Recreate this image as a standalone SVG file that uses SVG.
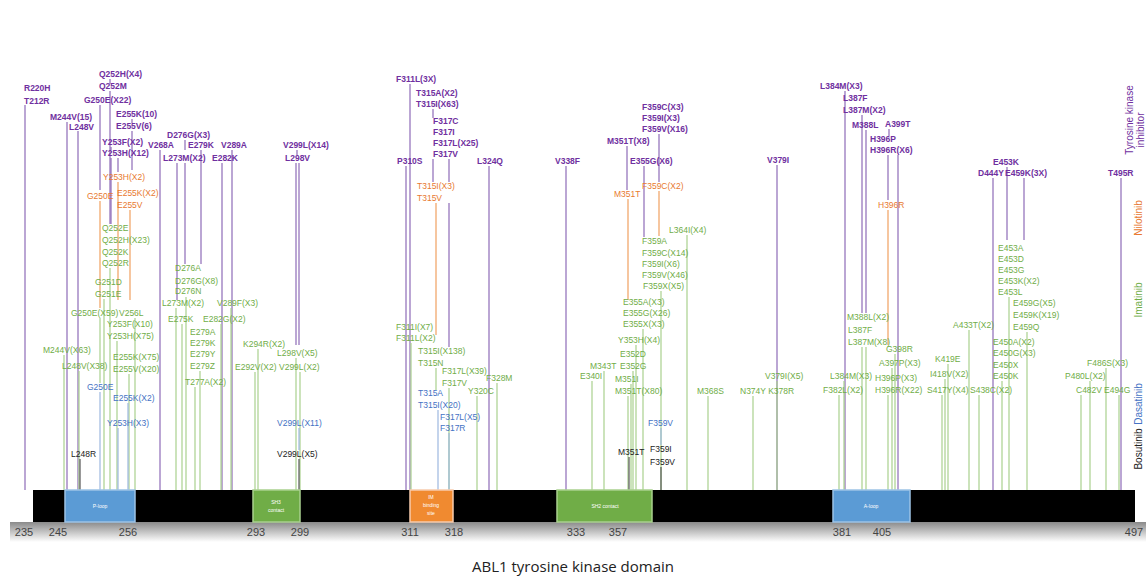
<svg xmlns="http://www.w3.org/2000/svg" width="1146" height="580" viewBox="0 0 1146 580">
<defs>
<linearGradient id="sh" x1="0" y1="0" x2="0" y2="1"><stop offset="0" stop-color="#8a8a8a"/><stop offset="1" stop-color="#ffffff"/></linearGradient>
</defs>
<style>
text{font-family:"Liberation Sans",Arial,sans-serif;font-size:8.5px}
.p{fill:#7030a0;font-weight:bold}
.o{fill:#e8792f}
.g{fill:#70ad47}
.b{fill:#4472c4}
.k{fill:#222}
.lp{stroke:#8e6bb8;stroke-width:1.2}
.lo{stroke:#f0a060;stroke-width:1.2}
.lg{stroke:#a9d18e;stroke-width:1.2}
.lb{stroke:#9db8e0;stroke-width:1.2}
.lk{stroke:#555;stroke-width:1.2}
.ax{font-size:11px;fill:#444}
.dm{font-size:5px;fill:#fff}
.lgd{font-size:10px}
</style>
<rect width="1146" height="580" fill="#fff"/>
<g id="connectors">
<line class="lp" x1="25" y1="105" x2="25" y2="490"/>
<line class="lp" x1="110" y1="79" x2="110" y2="84"/>
<line class="lp" x1="110" y1="91" x2="110" y2="224"/>
<line class="lp" x1="100" y1="105" x2="100" y2="190"/>
<line class="lp" x1="67" y1="122" x2="67" y2="490"/>
<line class="lp" x1="78" y1="131" x2="78" y2="490"/>
<line class="lp" x1="132" y1="119" x2="132" y2="123"/>
<line class="lp" x1="132" y1="131" x2="132" y2="170"/>
<line class="lp" x1="111" y1="147" x2="111" y2="150"/>
<line class="lp" x1="111" y1="158" x2="111" y2="224"/>
<line class="lp" x1="118" y1="158" x2="118" y2="172"/>
<line class="lp" x1="160" y1="150" x2="160" y2="490"/>
<line class="lp" x1="185" y1="140" x2="185" y2="150"/>
<line class="lp" x1="185" y1="163" x2="185" y2="264"/>
<line class="lp" x1="177" y1="163" x2="177" y2="300"/>
<line class="lp" x1="201" y1="150" x2="201" y2="264"/>
<line class="lp" x1="222" y1="163" x2="222" y2="490"/>
<line class="lp" x1="232" y1="150" x2="232" y2="490"/>
<line class="lp" x1="297" y1="150" x2="297" y2="155"/>
<line class="lp" x1="296" y1="163" x2="296" y2="345"/>
<line class="lp" x1="299" y1="163" x2="299" y2="345"/>
<line class="lp" x1="410" y1="84" x2="410" y2="490"/>
<line class="lp" x1="406" y1="166" x2="406" y2="490"/>
<line class="lp" x1="433" y1="109" x2="433" y2="118"/>
<line class="lp" x1="433" y1="159" x2="433" y2="182"/>
<line class="lp" x1="449" y1="159" x2="449" y2="182"/>
<line class="lp" x1="449" y1="203" x2="449" y2="347"/>
<line class="lp" x1="489" y1="166" x2="489" y2="490"/>
<line class="lp" x1="566" y1="166" x2="566" y2="490"/>
<line class="lp" x1="659" y1="134" x2="659" y2="182"/>
<line class="lp" x1="627" y1="146" x2="627" y2="190"/>
<line class="lp" x1="644" y1="166" x2="644" y2="237"/>
<line class="lp" x1="777" y1="165" x2="777" y2="490"/>
<line class="lp" x1="845" y1="91" x2="845" y2="490"/>
<line class="lp" x1="862" y1="115" x2="862" y2="313"/>
<line class="lp" x1="866" y1="130" x2="866" y2="313"/>
<line class="lp" x1="889" y1="129" x2="889" y2="136"/>
<line class="lp" x1="888" y1="155" x2="888" y2="200"/>
<line class="lp" x1="898" y1="155" x2="898" y2="490"/>
<line class="lp" x1="993" y1="178" x2="993" y2="490"/>
<line class="lp" x1="1007" y1="167" x2="1007" y2="240"/>
<line class="lp" x1="1024" y1="178" x2="1024" y2="240"/>
<line class="lp" x1="1121" y1="178" x2="1121" y2="490"/>
<line class="lo" x1="118" y1="182" x2="118" y2="300"/>
<line class="lo" x1="100" y1="201" x2="100" y2="308"/>
<line class="lo" x1="130" y1="210" x2="130" y2="300"/>
<line class="lo" x1="436" y1="203" x2="436" y2="335"/>
<line class="lo" x1="659" y1="191" x2="659" y2="236"/>
<line class="lo" x1="628" y1="199" x2="628" y2="300"/>
<line class="lo" x1="888" y1="210" x2="888" y2="345"/>
<line class="lg" x1="64" y1="355" x2="64" y2="490"/>
<line class="lg" x1="79" y1="371" x2="79" y2="490"/>
<line class="lg" x1="100" y1="318" x2="100" y2="383"/>
<line class="lg" x1="104" y1="299" x2="104" y2="490"/>
<line class="lg" x1="110" y1="268" x2="110" y2="490"/>
<line class="lg" x1="117" y1="341" x2="117" y2="490"/>
<line class="lg" x1="129" y1="374" x2="129" y2="490"/>
<line class="lg" x1="135" y1="318" x2="135" y2="490"/>
<line class="lg" x1="176" y1="308" x2="176" y2="490"/>
<line class="lg" x1="182" y1="324" x2="182" y2="490"/>
<line class="lg" x1="186" y1="297" x2="186" y2="490"/>
<line class="lg" x1="195" y1="387" x2="195" y2="490"/>
<line class="lg" x1="200" y1="371" x2="200" y2="490"/>
<line class="lg" x1="221" y1="324" x2="221" y2="490"/>
<line class="lg" x1="231" y1="308" x2="231" y2="490"/>
<line class="lg" x1="255" y1="372" x2="255" y2="490"/>
<line class="lg" x1="258" y1="349" x2="258" y2="490"/>
<line class="lg" x1="296" y1="358" x2="296" y2="490"/>
<line class="lg" x1="300" y1="372" x2="300" y2="490"/>
<line class="lg" x1="411" y1="343" x2="411" y2="490"/>
<line class="lg" x1="436" y1="368" x2="436" y2="390"/>
<line class="lg" x1="449" y1="388" x2="449" y2="490"/>
<line class="lg" x1="477" y1="396" x2="477" y2="490"/>
<line class="lg" x1="497" y1="383" x2="497" y2="490"/>
<line class="lg" x1="592" y1="381" x2="592" y2="490"/>
<line class="lg" x1="604" y1="371" x2="604" y2="490"/>
<line class="lg" x1="628" y1="396" x2="628" y2="490"/>
<line class="lg" x1="631" y1="384" x2="631" y2="490"/>
<line class="lg" x1="633" y1="371" x2="633" y2="490"/>
<line class="lg" x1="636" y1="345" x2="636" y2="490"/>
<line class="lg" x1="643" y1="329" x2="643" y2="490"/>
<line class="lg" x1="661" y1="291" x2="661" y2="490"/>
<line class="lg" x1="687" y1="235" x2="687" y2="490"/>
<line class="lg" x1="708" y1="396" x2="708" y2="490"/>
<line class="lg" x1="753" y1="396" x2="753" y2="490"/>
<line class="lg" x1="777" y1="381" x2="777" y2="490"/>
<line class="lg" x1="839" y1="395" x2="839" y2="490"/>
<line class="lg" x1="844" y1="381" x2="844" y2="490"/>
<line class="lg" x1="862" y1="347" x2="862" y2="490"/>
<line class="lg" x1="866" y1="347" x2="866" y2="490"/>
<line class="lg" x1="888" y1="395" x2="888" y2="490"/>
<line class="lg" x1="892" y1="368" x2="892" y2="490"/>
<line class="lg" x1="895" y1="354" x2="895" y2="490"/>
<line class="lg" x1="942" y1="395" x2="942" y2="490"/>
<line class="lg" x1="945" y1="379" x2="945" y2="490"/>
<line class="lg" x1="948" y1="364" x2="948" y2="490"/>
<line class="lg" x1="969" y1="330" x2="969" y2="490"/>
<line class="lg" x1="979" y1="395" x2="979" y2="490"/>
<line class="lg" x1="1002" y1="381" x2="1002" y2="490"/>
<line class="lg" x1="1009" y1="297" x2="1009" y2="490"/>
<line class="lg" x1="1027" y1="332" x2="1027" y2="490"/>
<line class="lg" x1="1081" y1="395" x2="1081" y2="490"/>
<line class="lg" x1="1090" y1="381" x2="1090" y2="490"/>
<line class="lg" x1="1106" y1="368" x2="1106" y2="490"/>
<line class="lg" x1="1119" y1="395" x2="1119" y2="490"/>
<line class="lb" x1="100" y1="392" x2="100" y2="490"/>
<line class="lb" x1="128" y1="403" x2="128" y2="490"/>
<line class="lb" x1="118" y1="428" x2="118" y2="490"/>
<line class="lb" x1="299" y1="428" x2="299" y2="450"/>
<line class="lb" x1="438" y1="410" x2="438" y2="490"/>
<line class="lb" x1="449" y1="433" x2="449" y2="490"/>
<line class="lb" x1="661" y1="428" x2="661" y2="445"/>
<line class="lk" x1="80" y1="459" x2="80" y2="490"/>
<line class="lk" x1="299" y1="459" x2="299" y2="490"/>
<line class="lk" x1="629" y1="457" x2="629" y2="490"/>
<line class="lk" x1="661" y1="467" x2="661" y2="490"/>
</g>
<g id="tki">
<text class="p" x="24" y="91">R220H</text>
<text class="p" x="24" y="104">T212R</text>
<text class="p" x="99" y="77">Q252H(X4)</text>
<text class="p" x="99" y="89">Q252M</text>
<text class="p" x="84" y="103">G250E(X22)</text>
<text class="p" x="50" y="120">M244V(15)</text>
<text class="p" x="116" y="117">E255K(10)</text>
<text class="p" x="69" y="130">L248V</text>
<text class="p" x="116" y="129">E255V(6)</text>
<text class="p" x="167" y="138">D276G(X3)</text>
<text class="p" x="102" y="145">Y253F(X2)</text>
<text class="p" x="148" y="148">V268A</text>
<text class="p" x="188" y="148">E279K</text>
<text class="p" x="221" y="148">V289A</text>
<text class="p" x="283" y="148">V299L(X14)</text>
<text class="p" x="102" y="156">Y253H(X12)</text>
<text class="p" x="163" y="161">L273M(X2)</text>
<text class="p" x="212" y="161">E282K</text>
<text class="p" x="285" y="161">L298V</text>
<text class="p" x="396" y="82">F311L(3X)</text>
<text class="p" x="416" y="96">T315A(X2)</text>
<text class="p" x="416" y="107">T315I(X63)</text>
<text class="p" x="433" y="124">F317C</text>
<text class="p" x="433" y="135">F317I</text>
<text class="p" x="433" y="146">F317L(X25)</text>
<text class="p" x="433" y="157">F317V</text>
<text class="p" x="397" y="164">P310S</text>
<text class="p" x="477" y="164">L324Q</text>
<text class="p" x="555" y="164">V338F</text>
<text class="p" x="642" y="110">F359C(X3)</text>
<text class="p" x="642" y="121">F359I(X3)</text>
<text class="p" x="642" y="132">F359V(X16)</text>
<text class="p" x="607" y="144">M351T(X8)</text>
<text class="p" x="630" y="164">E355G(X6)</text>
<text class="p" x="767" y="163">V379I</text>
<text class="p" x="820" y="89">L384M(X3)</text>
<text class="p" x="843" y="101">L387F</text>
<text class="p" x="843" y="113">L387M(X2)</text>
<text class="p" x="852" y="128">M388L</text>
<text class="p" x="885" y="127">A399T</text>
<text class="p" x="870" y="142">H396P</text>
<text class="p" x="870" y="153">H396R(X6)</text>
<text class="p" x="993" y="165">E453K</text>
<text class="p" x="978" y="176">D444Y</text>
<text class="p" x="1005" y="176">E459K(3X)</text>
<text class="p" x="1108" y="176">T495R</text>
</g>
<g id="nilotinib">
<text class="o" x="103" y="180">Y253H(X2)</text>
<text class="o" x="117" y="196">E255K(X2)</text>
<text class="o" x="87" y="199">G250E</text>
<text class="o" x="117" y="208">E255V</text>
<text class="o" x="417" y="189">T315I(X3)</text>
<text class="o" x="417" y="201">T315V</text>
<text class="o" x="642" y="189">F359C(X2)</text>
<text class="o" x="614" y="197">M351T</text>
<text class="o" x="878" y="208">H396R</text>
</g>
<g id="imatinib">
<text class="g" x="102" y="231">Q252E</text>
<text class="g" x="102" y="243">Q252H(X23)</text>
<text class="g" x="102" y="255">Q252K</text>
<text class="g" x="102" y="266">Q252R</text>
<text class="g" x="175" y="271">D276A</text>
<text class="g" x="95" y="285">G251D</text>
<text class="g" x="175" y="284">D276G(X8)</text>
<text class="g" x="175" y="294">D276N</text>
<text class="g" x="95" y="297">G251E</text>
<text class="g" x="162" y="306">L273M(X2)</text>
<text class="g" x="217" y="306">V289F(X3)</text>
<text class="g" x="71" y="316">G250E(X59)</text>
<text class="g" x="119" y="316">V256L</text>
<text class="g" x="168" y="322">E275K</text>
<text class="g" x="203" y="322">E282G(X2)</text>
<text class="g" x="107" y="327">Y253F(X10)</text>
<text class="g" x="190" y="335">E279A</text>
<text class="g" x="107" y="339">Y253H(X75)</text>
<text class="g" x="190" y="346">E279K</text>
<text class="g" x="243" y="347">K294R(X2)</text>
<text class="g" x="43" y="353">M244V(X63)</text>
<text class="g" x="190" y="357">E279Y</text>
<text class="g" x="277" y="356">L298V(X5)</text>
<text class="g" x="113" y="360">E255K(X75)</text>
<text class="g" x="190" y="369">E279Z</text>
<text class="g" x="62" y="369">L248V(X38)</text>
<text class="g" x="235" y="370">E292V(X2)</text>
<text class="g" x="279" y="370">V299L(X2)</text>
<text class="g" x="113" y="372">E255V(X20)</text>
<text class="g" x="185" y="385">T277A(X2)</text>
<text class="g" x="396" y="330">F311I(X7)</text>
<text class="g" x="396" y="341">F311L(X2)</text>
<text class="g" x="418" y="354">T315I(X138)</text>
<text class="g" x="418" y="366">T315N</text>
<text class="g" x="442" y="374">F317L(X39)</text>
<text class="g" x="486" y="381">F328M</text>
<text class="g" x="442" y="386">F317V</text>
<text class="g" x="468" y="394">Y320C</text>
<text class="g" x="669" y="233">L364I(X4)</text>
<text class="g" x="642" y="244">F359A</text>
<text class="g" x="642" y="256">F359C(X14)</text>
<text class="g" x="642" y="267">F359I(X6)</text>
<text class="g" x="642" y="278">F359V(X46)</text>
<text class="g" x="643" y="289">F359X(X5)</text>
<text class="g" x="623" y="305">E355A(X3)</text>
<text class="g" x="623" y="316">E355G(X26)</text>
<text class="g" x="623" y="327">E355X(X3)</text>
<text class="g" x="618" y="343">Y353H(X4)</text>
<text class="g" x="620" y="357">E352D</text>
<text class="g" x="590" y="369">M343T</text>
<text class="g" x="620" y="369">E352G</text>
<text class="g" x="580" y="379">E340I</text>
<text class="g" x="615" y="382">M351I</text>
<text class="g" x="615" y="394">M351T(X80)</text>
<text class="g" x="697" y="394">M368S</text>
<text class="g" x="765" y="379">V379I(X5)</text>
<text class="g" x="740" y="394">N374Y K378R</text>
<text class="g" x="847" y="320">M388L(X2)</text>
<text class="g" x="848" y="333">L387F</text>
<text class="g" x="848" y="345">L387M(X8)</text>
<text class="g" x="886" y="352">G398R</text>
<text class="g" x="879" y="366">A397P(X3)</text>
<text class="g" x="935" y="362">K419E</text>
<text class="g" x="830" y="379">L384M(X3)</text>
<text class="g" x="875" y="381">H396P(X3)</text>
<text class="g" x="930" y="377">I418V(X2)</text>
<text class="g" x="823" y="393">F382L(X2)</text>
<text class="g" x="875" y="393">H396R(X22)</text>
<text class="g" x="927" y="393">S417Y(X4)</text>
<text class="g" x="998" y="251">E453A</text>
<text class="g" x="998" y="262">E453D</text>
<text class="g" x="998" y="273">E453G</text>
<text class="g" x="998" y="284">E453K(X2)</text>
<text class="g" x="998" y="295">E453L</text>
<text class="g" x="1013" y="306">E459G(X5)</text>
<text class="g" x="1013" y="318">E459K(X19)</text>
<text class="g" x="1013" y="330">E459Q</text>
<text class="g" x="953" y="328">A433T(X2)</text>
<text class="g" x="993" y="345">E450A(X2)</text>
<text class="g" x="993" y="356">E450G(X3)</text>
<text class="g" x="993" y="368">E450X</text>
<text class="g" x="993" y="379">E450K</text>
<text class="g" x="970" y="393">S438C(X2)</text>
<text class="g" x="1087" y="366">F486S(X3)</text>
<text class="g" x="1065" y="379">P480L(X2)</text>
<text class="g" x="1076" y="393">C482V</text>
<text class="g" x="1104" y="393">E494G</text>
</g>
<g id="dasatinib">
<text class="b" x="87" y="390">G250E</text>
<text class="b" x="113" y="401">E255K(X2)</text>
<text class="b" x="107" y="426">Y253H(X3)</text>
<text class="b" x="277" y="426">V299L(X11)</text>
<text class="b" x="418" y="396">T315A</text>
<text class="b" x="418" y="408">T315I(X20)</text>
<text class="b" x="440" y="420">F317L(X5)</text>
<text class="b" x="440" y="431">F317R</text>
<text class="b" x="648" y="426">F359V</text>
</g>
<g id="bosutinib">
<text class="k" x="71" y="457">L248R</text>
<text class="k" x="277" y="457">V299L(X5)</text>
<text class="k" x="618" y="455">M351T</text>
<text class="k" x="650" y="452">F359I</text>
<text class="k" x="650" y="465">F359V</text>
</g>
<g id="domain">
<rect x="10" y="522" width="1136" height="20" fill="url(#sh)"/>
<rect x="33" y="490" width="1102" height="32" fill="#000"/>
<rect x="65" y="490" width="70" height="32" fill="#5b9bd5" stroke="#9dc3e6" stroke-width="1.5"/>
<rect x="253" y="490" width="47" height="32" fill="#70ad47" stroke="#a9d18e" stroke-width="1.5"/>
<rect x="410" y="490" width="43" height="32" fill="#f08a30" stroke="#f8cbad" stroke-width="1.5"/>
<rect x="557" y="490" width="95" height="32" fill="#70ad47" stroke="#a9d18e" stroke-width="1.5"/>
<rect x="833" y="490" width="77" height="32" fill="#5b9bd5" stroke="#9dc3e6" stroke-width="1.5"/>
<text class="dm" x="100" y="508" text-anchor="middle">P-loop</text>
<text class="dm" x="276" y="504" text-anchor="middle">SH3</text>
<text class="dm" x="276" y="512" text-anchor="middle">contact</text>
<text class="dm" x="431" y="499" text-anchor="middle">IM</text>
<text class="dm" x="431" y="507" text-anchor="middle">binding</text>
<text class="dm" x="431" y="515" text-anchor="middle">site</text>
<text class="dm" x="605" y="508" text-anchor="middle">SH2 contact</text>
<text class="dm" x="871" y="508" text-anchor="middle">A-loop</text>
</g>
<g id="axis" text-anchor="middle">
<text class="ax" x="24" y="536">235</text>
<text class="ax" x="58" y="536">245</text>
<text class="ax" x="128" y="536">256</text>
<text class="ax" x="256" y="536">293</text>
<text class="ax" x="300" y="536">299</text>
<text class="ax" x="410" y="536">311</text>
<text class="ax" x="454" y="536">318</text>
<text class="ax" x="576" y="536">333</text>
<text class="ax" x="618" y="536">357</text>
<text class="ax" x="842" y="536">381</text>
<text class="ax" x="882" y="536">405</text>
<text class="ax" x="1134" y="536">497</text>
</g>
<text x="573" y="572" text-anchor="middle" style="font-family:'Open Sans','Liberation Sans',sans-serif;font-size:15px;fill:#222">ABL1 tyrosine kinase domain</text>
<g id="legend" text-anchor="middle">
<text class="lgd" transform="translate(1133,120) rotate(-90)" fill="#7030a0">Tyrosine kinase</text>
<text class="lgd" transform="translate(1144,130) rotate(-90)" fill="#7030a0">inhibitor</text>
<text class="lgd" transform="translate(1142,218) rotate(-90)" fill="#e8792f">Nilotinib</text>
<text class="lgd" transform="translate(1142,300) rotate(-90)" fill="#70ad47">Imatinib</text>
<text class="lgd" transform="translate(1142,404) rotate(-90)" fill="#4472c4">Dasatinib</text>
<text class="lgd" transform="translate(1142,449) rotate(-90)" fill="#222">Bosutinib</text>
</g>
</svg>
